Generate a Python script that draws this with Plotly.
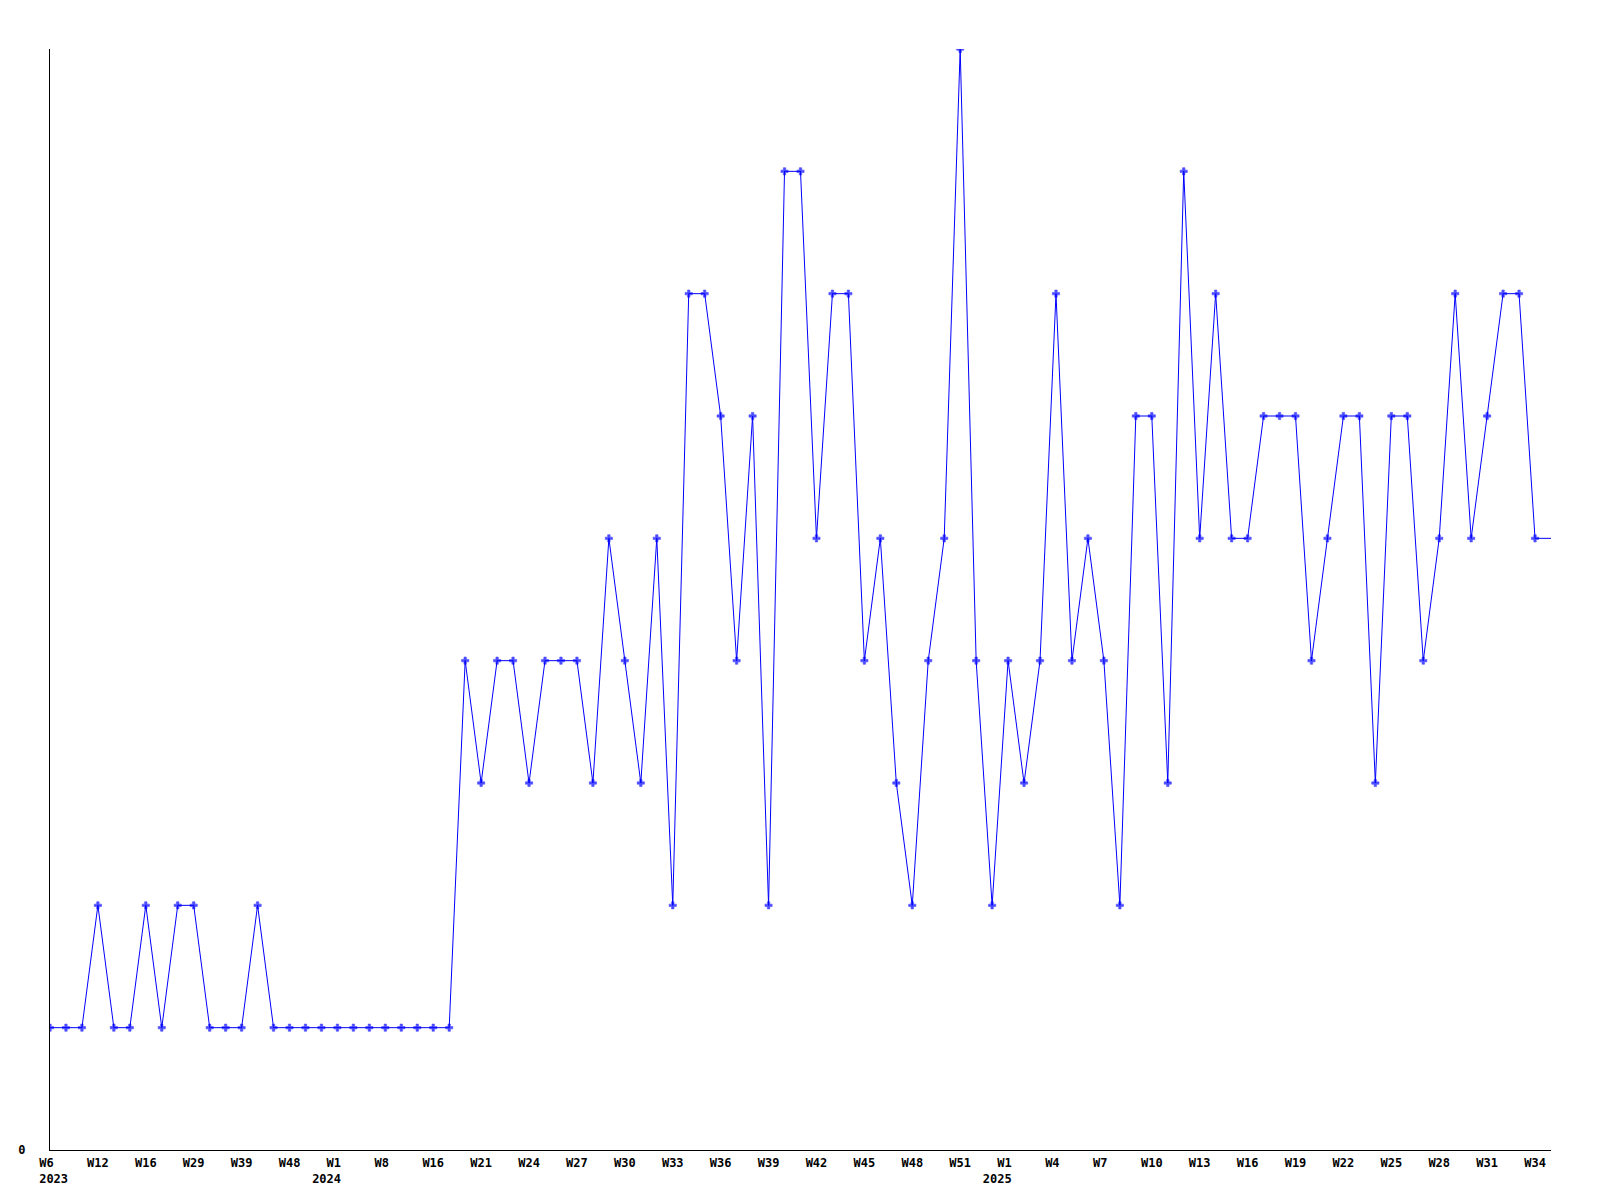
import plotly.graph_objects as go

# Week categories (one point per observed week)
weeks = [
    "2023-W06", "2023-W08", "2023-W10", "2023-W12", "2023-W13", "2023-W14",
    "2023-W16", "2023-W20", "2023-W25", "2023-W29", "2023-W31", "2023-W35",
    "2023-W39", "2023-W42", "2023-W45", "2023-W48", "2023-W50", "2023-W52",
    "2024-W01", "2024-W03", "2024-W05", "2024-W08", "2024-W11", "2024-W14",
    "2024-W16", "2024-W18", "2024-W20",
] + [f"2024-W{w:02d}" for w in range(21, 53)] + ["2024-W53"] + [f"2025-W{w:02d}" for w in range(1, 36)]

values = [
    1, 1, 1, 2, 1, 1, 2, 1, 2, 2, 1, 1, 1, 2, 1, 1, 1, 1, 1, 1,
    1, 1, 1, 1, 1, 1, 4, 3, 4, 4, 3, 4, 4, 4, 3, 5, 4, 3, 5, 2,
    7, 7, 6, 4, 6, 2, 8, 8, 5, 7, 7, 4, 5, 3, 2, 4, 5, 9, 4, 2,
    4, 3, 4, 7, 4, 5, 4, 2, 6, 6, 3, 8, 5, 7, 5, 5, 6, 6, 6, 4,
    5, 6, 6, 3, 6, 6, 4, 5, 7, 5, 6, 7, 7, 5, 5,
]

# Tick labels (every third observed week)
tick_weeks = [
    "2023-W06", "2023-W12", "2023-W16", "2023-W29", "2023-W39", "2023-W48",
    "2024-W01", "2024-W08", "2024-W16", "2024-W21", "2024-W24", "2024-W27",
    "2024-W30", "2024-W33", "2024-W36", "2024-W39", "2024-W42", "2024-W45",
    "2024-W48", "2024-W51", "2025-W01", "2025-W04", "2025-W07", "2025-W10",
    "2025-W13", "2025-W16", "2025-W19", "2025-W22", "2025-W25", "2025-W28",
    "2025-W31", "2025-W34",
]
tick_week_labels = [
    "W6", "W12", "W16", "W29", "W39", "W48",
    "W1", "W8", "W16", "W21", "W24", "W27",
    "W30", "W33", "W36", "W39", "W42", "W45",
    "W48", "W51", "W1", "W4", "W7", "W10",
    "W13", "W16", "W19", "W22", "W25", "W28",
    "W31", "W34",
]
tick_year_labels = {"2023-W06": "2023", "2024-W01": "2024", "2025-W01": "2025"}

NB = "\u00a0"
tick_text = []
for tw, wl in zip(tick_weeks, tick_week_labels):
    # pad to 3 monospace chars so labels read as left-aligned like the original
    txt = wl + NB * (3 - len(wl))
    if tw in tick_year_labels:
        yl = tick_year_labels[tw]
        if tw == tick_weeks[0]:
            yl = NB + yl
        else:
            yl = yl + NB * 3
        txt = txt + "<br>" + yl
    tick_text.append(txt)

marker_sizes = [6] * (len(values) - 1) + [0]

fig = go.Figure(
    go.Scatter(
        x=weeks,
        y=values,
        mode="lines+markers",
        line=dict(color="#0000FF", width=1),
        marker=dict(symbol="cross", size=marker_sizes, color="#0000FF",
                    line=dict(width=0.6, color="#0000FF")),
        cliponaxis=True,
        hoverinfo="x+y",
    )
)

font = dict(family="DejaVu Sans Mono", size=12, color="black", weight="bold")

fig.update_layout(
    width=1600,
    height=1200,
    margin=dict(l=42, r=57, t=41, b=58, pad=0, autoexpand=False),
    paper_bgcolor="white",
    plot_bgcolor="white",
    showlegend=False,
    font=font,
)
fig.update_xaxes(
    type="category",
    categoryorder="array",
    categoryarray=weeks,
    range=[0, len(weeks) - 1],
    tickmode="array",
    tickvals=tick_weeks,
    ticktext=tick_text,
    showgrid=False,
    zeroline=False,
    showline=True,
    linecolor="black",
    linewidth=1,
    ticks="",
    ticklabelstandoff=2,
    automargin=False,
    tickfont=font,
    tickangle=0,
)
fig.update_yaxes(
    range=[0, 9],
    tickmode="array",
    tickvals=[0],
    ticktext=["0"],
    showgrid=False,
    zeroline=False,
    showline=True,
    linecolor="black",
    linewidth=1,
    ticks="",
    ticklabelstandoff=21,
    automargin=False,
    tickfont=font,
)

fig.write_html("out.html")
